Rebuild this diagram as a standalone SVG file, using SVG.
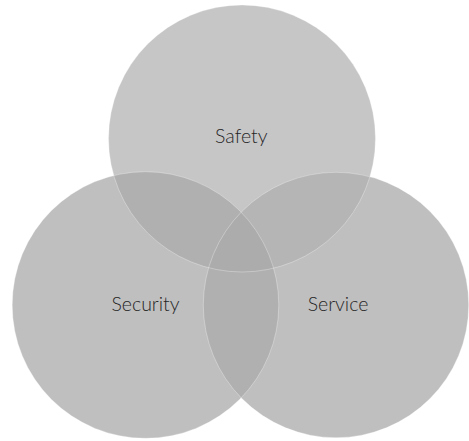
<svg xmlns="http://www.w3.org/2000/svg" width="469" height="441" viewBox="0 0 469 441">
  <style>
    .lbl { font-family: "Lato", "Open Sans", "Liberation Sans", sans-serif; font-weight: 300; font-size: 19.5px; fill: #262626; text-anchor: middle; }
    .edge { fill: none; stroke: #ffffff; stroke-opacity: 0.3; stroke-width: 1; }
  </style>
  <defs>
    <circle id="shapeTop" cx="242" cy="138.5" r="133.5"/>
    <circle id="shapeLeft" cx="145.5" cy="305" r="133.3"/>
    <circle id="shapeRight" cx="336" cy="305" r="132.7"/>
    <clipPath id="clipTop"><use href="#shapeTop"/></clipPath>
    <clipPath id="clipLeft"><use href="#shapeLeft"/></clipPath>
  </defs>

  <rect width="469" height="441" fill="#ffffff"/>

  <!-- base discs -->
  <g id="node-safety">
    <use href="#shapeTop" fill="#c6c6c6"/>
  </g>
  <g id="node-security">
    <use href="#shapeLeft" fill="#bfbfbf"/>
  </g>
  <g id="node-service">
    <use href="#shapeRight" fill="#bfbfbf"/>
  </g>

  <!-- pairwise overlaps and the shared centre -->
  <g id="overlaps">
    <use href="#shapeLeft" fill="#b0b0b0" clip-path="url(#clipTop)"/>
    <use href="#shapeRight" fill="#b5b5b5" clip-path="url(#clipTop)"/>
    <use href="#shapeRight" fill="#b0b0b0" clip-path="url(#clipLeft)"/>
    <g clip-path="url(#clipTop)">
      <use href="#shapeRight" fill="#acacac" clip-path="url(#clipLeft)"/>
    </g>
  </g>

  <!-- faint rims -->
  <g id="rims">
    <use href="#shapeTop" class="edge"/>
    <use href="#shapeLeft" class="edge"/>
    <use href="#shapeRight" class="edge"/>
  </g>

  <g id="labels">
    <text class="lbl" x="241.3" y="143">Safety</text>
    <text class="lbl" x="145.5" y="310.5">Security</text>
    <text class="lbl" x="338" y="310.5">Service</text>
  </g>
</svg>
